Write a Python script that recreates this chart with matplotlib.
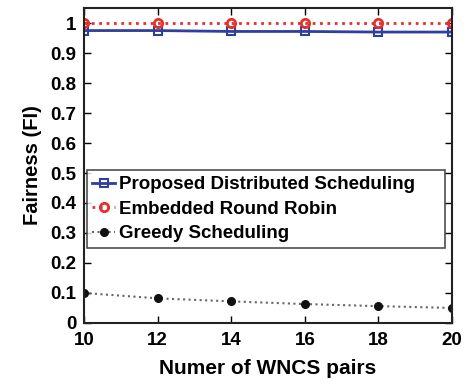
import matplotlib.pyplot as plt
import numpy as np

# data
pairs = [10, 12, 14, 16, 18, 20]
proposed = [0.975, 0.975, 0.972, 0.972, 0.970, 0.970]
round_robin = [1.0, 1.0, 1.0, 1.0, 1.0, 1.0]
greedy = [0.100, 0.082, 0.072, 0.063, 0.056, 0.050]

plt.rcParams['font.family'] = ['Liberation Sans', 'DejaVu Sans']
plt.rcParams['font.weight'] = 'bold'

fig = plt.figure(figsize=(4.66, 3.84), dpi=100)
ax = fig.add_axes([0.180, 0.159, 0.790, 0.820])

ax.plot(pairs, proposed, '-s', color='#2e3f9e', linewidth=2, markersize=5.5,
        markerfacecolor='none', markeredgewidth=1.5, label='Proposed Distributed Scheduling')
ax.plot(pairs, round_robin, ':o', color='#e8302a', linewidth=2, markersize=6,
        markerfacecolor='none', markeredgewidth=2, label='Embedded Round Robin')
ax.plot(pairs, greedy, ':o', color='#666666', linewidth=1.5, markersize=5.5,
        markerfacecolor='#111111', markeredgecolor='#111111', label='Greedy Scheduling')

ax.set_xlim(10, 20)
ax.set_ylim(0, 1.05)
ax.set_xticks(pairs)
ax.set_yticks(np.arange(0, 1.01, 0.1))
ax.set_yticklabels(['0', '0.1', '0.2', '0.3', '0.4', '0.5', '0.6', '0.7', '0.8', '0.9', '1'])
ax.tick_params(direction='in', top=True, right=True, labelsize=13.5, length=5, width=1)
ax.tick_params(axis='y', pad=5.5)
ax.tick_params(axis='x', pad=6.5)
for s in ax.spines.values():
    s.set_linewidth(1.5)
    s.set_color('#222222')

ax.set_xlabel('Numer of WNCS pairs', fontsize=15, fontweight='bold', labelpad=7)
ax.set_ylabel('Fairness (FI)', fontsize=14.5, fontweight='bold', labelpad=6)

leg = ax.legend(loc='lower left', bbox_to_anchor=(0.008, 0.238, 0.972, 0.26), mode='expand',
                fontsize=13.5, frameon=True, fancybox=False, edgecolor='#222222',
                handlelength=1.2, handletextpad=0.2, borderpad=0.3, labelspacing=0.4,
                borderaxespad=0)
leg.get_frame().set_linewidth(1.2)

plt.savefig('out.png', dpi=100)
